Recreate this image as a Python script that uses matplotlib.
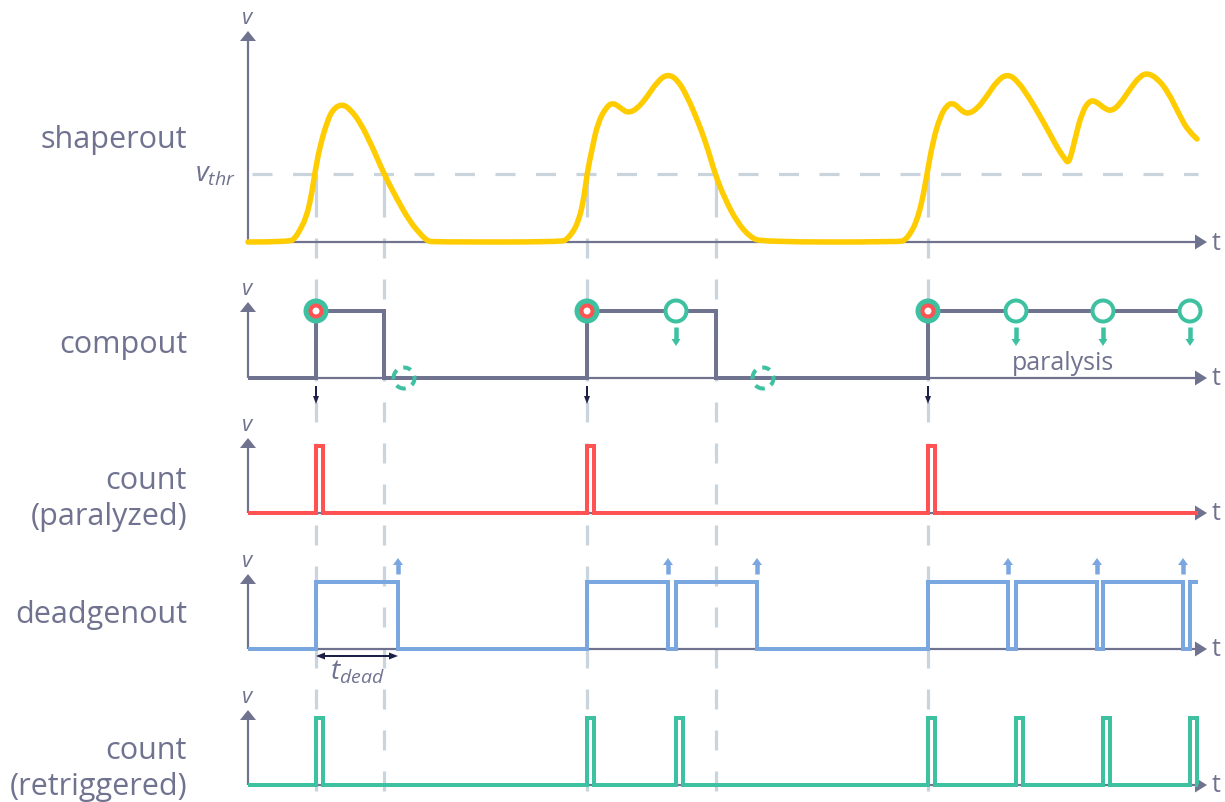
import matplotlib
matplotlib.use('Agg')
import matplotlib.pyplot as plt
from matplotlib.patches import Polygon, Circle, PathPatch
from matplotlib.path import Path
import numpy as np

plt.rcParams['font.family'] = ['Open Sans', 'DejaVu Sans']
plt.rcParams['mathtext.fontset'] = 'custom'
plt.rcParams['mathtext.it'] = 'Open Sans:italic'
plt.rcParams['mathtext.rm'] = 'Open Sans'
plt.rcParams['lines.scale_dashes'] = False

# ---- data (time in px-units from the v axis, voltage as height) ----
labels = ['shaperout', 'compout', 'count\n(paralyzed)', 'deadgenout', 'count\n(retriggered)']

shaper_t = [0, 42, 47, 52, 58, 63, 67, 72, 79, 85, 94, 102, 112, 124, 136, 149, 162, 175, 180, 185,
            314, 319, 325, 330, 335, 339, 344, 350, 359, 365, 370, 374, 380, 389, 399, 409, 419, 429,
            439, 449, 459, 467, 477, 489, 502, 514,
            652, 657, 662, 668, 674, 679, 685, 692, 699, 705, 710, 714, 720, 729, 739, 749, 759, 769,
            782, 792, 802, 810, 817, 820, 823, 827, 834, 842, 849, 857, 864, 872, 882, 892, 900,
            910, 920, 930, 940, 949]
shaper_v = [0, 0, 4, 12, 24, 44, 70, 96, 120, 133, 138, 133, 120, 96, 68, 43, 20, 5, 1, 0,
            0, 3, 10, 20, 38, 68, 93, 120, 136, 139, 136, 133, 129, 133, 145, 160, 168, 163,
            146, 123, 96, 68, 43, 20, 5, 0,
            0, 2, 8, 19, 40, 68, 101, 125, 137, 139, 135, 131, 128, 133, 146, 161, 168, 162,
            143, 126, 108, 93, 83, 79, 86, 103, 130, 142, 140, 133, 131, 138, 153, 166, 169,
            163, 150, 130, 111, 103]
v_thr = 68

cross_up = [68, 339, 680]
cross_down = [136, 468]
comp_end = 952
missed = [156, 515]                 # dashed circles (below threshold)
ignored = [428, 768, 855, 942]      # open circles during paralysis
paralyzed_pulses = [68, 339, 680]
dead_rise = [68, 339, 428, 680, 768, 855, 942]
dead_fall = [150, 420, 509, 760, 849, 935]
retrig_pulses = [68, 339, 428, 680, 768, 855, 942]
t_dead = (68, 150)
sig_end = 950

# ---- style ----
AXC = '#70738f'
TXT = '#70738f'
YEL = '#ffcc00'
RED = '#ff5252'
BLU = '#7ba7e0'
TEAL = '#3ec1a1'
NAVY = '#1d2148'
GRID = '#cad4dd'
PT = 0.72

X0 = 248
T_AXIS = 959
bases = [243, 379, 514, 650, 786]
tops = [32, 303, 439, 575, 711]
HIGH = 67


def X(t):
    return X0 + np.asarray(t, dtype=float)


def steps(rises, falls, end):
    ev = sorted([(r, 1) for r in rises] + [(f, 0) for f in falls])
    ts, ls = [0], [0]
    for t, lv in ev:
        ts += [t, t]
        ls += [ls[-1], lv]
    ts.append(end)
    ls.append(ls[-1])
    return np.array(ts), np.array(ls)


def smooth_path(xs, ys):
    # quadratic B-spline through the read points, drawn by matplotlib's Bezier path
    P = np.column_stack([xs, ys])
    verts = [P[0]]
    codes = [Path.MOVETO]
    n = len(P)
    for i in range(1, n - 1):
        end = P[n - 1] if i == n - 2 else (P[i] + P[i + 1]) / 2
        verts += [P[i], end]
        codes += [Path.CURVE3, Path.CURVE3]
    return Path(verts, codes)


def vhead(ax, x, tip, color, w, l, up=True):
    s = 1 if up else -1
    ax.add_patch(Polygon([(x - w / 2, tip + s * l), (x + w / 2, tip + s * l), (x, tip)],
                         closed=True, fc=color, ec='none', zorder=6))


def varrow(ax, x, y0, tip, color, lw_px, w, l):
    up = tip < y0
    s = 1 if up else -1
    ax.plot([x, x], [y0, tip + s * l * 0.7], color=color, lw=lw_px * PT,
            solid_capstyle='butt', zorder=6)
    vhead(ax, x, tip, color, w, l, up)


fig = plt.figure(figsize=(12.25, 8.03), dpi=100)
ax = fig.add_axes([0, 0, 1, 1])
ax.set_xlim(0, 1225)
ax.set_ylim(803, 0)
ax.axis('off')

# grid: threshold and vertical dashed lines
y_thr = bases[0] - v_thr
ax.plot([252, 1198], [y_thr, y_thr], color=GRID, lw=3.2 * PT,
        linestyle=(0, (20 * PT, 20.5 * PT)), zorder=1)
for t in cross_up + cross_down:
    ax.plot([X(t), X(t)], [y_thr, 218], color=GRID, lw=3.2 * PT, solid_capstyle='butt', zorder=1)
    ax.plot([X(t), X(t)], [239, 803], color=GRID, lw=3.2 * PT,
            linestyle=(0, (20 * PT, 21 * PT)), zorder=1)

# axes
x_tip = X0 + T_AXIS
for b, tp in zip(bases, tops):
    ax.plot([X0, X0], [b, tp + 8], color=AXC, lw=2.2 * PT, zorder=2, solid_capstyle='butt')
    vhead(ax, X0, tp, AXC, 16, 10)
    ax.plot([X0, x_tip - 10], [b, b], color=AXC, lw=2.2 * PT, zorder=2, solid_capstyle='butt')
    ax.add_patch(Polygon([(x_tip - 12, b - 7.5), (x_tip - 12, b + 7.5), (x_tip, b)],
                         closed=True, fc=AXC, ec='none', zorder=2))
    ax.text(x_tip + 5, b, 't', ha='left', va='center', fontsize=18, color=TXT)
    ax.text(X0, tp - 13, '$v$', ha='center', va='center', fontsize=16, color=TXT)

# panel labels
for lab, yc in zip(labels, [140, 345, 499, 615, 769]):
    ax.text(187, yc, lab, ha='right', va='center', fontsize=22, color=TXT, linespacing=1.3)
ax.text(236, 182, r'$v_{thr}$', ha='right', va='baseline', fontsize=20, color=TXT)

# shaperout
ax.add_patch(PathPatch(smooth_path(X(shaper_t), bases[0] - np.array(shaper_v)), fc='none',
                       ec=YEL, lw=5.5 * PT, capstyle='round', joinstyle='round', zorder=4))

# compout
ct, cl = steps(cross_up, cross_down, comp_end)
ax.plot(X(ct), bases[1] - HIGH * cl, color=AXC, lw=4 * PT, solid_joinstyle='miter',
        solid_capstyle='butt', zorder=3)
yh = bases[1] - HIGH
for t in cross_up:
    ax.add_patch(Circle((X(t), yh), 12.5, fc=TEAL, ec='none', zorder=5))
    ax.add_patch(Circle((X(t), yh), 5.5, fc='white', ec=RED, lw=4 * PT, zorder=5))
    varrow(ax, X(t), 387, 405, NAVY, 2, 6, 8)
for t in ignored:
    ax.add_patch(Circle((X(t), yh), 10.5, fc='white', ec=TEAL, lw=4 * PT, zorder=5))
    varrow(ax, X(t), 328, 347, TEAL, 4.5, 9, 7)
for t in missed:
    ax.add_patch(Circle((X(t), bases[1]), 10.5, fc='none', ec=TEAL, lw=4 * PT,
                        linestyle=(2, (10 * PT, 7 * PT)), zorder=5))
ax.text(1063, 364, 'paralysis', ha='center', va='center', fontsize=18, color=TXT, zorder=5)

# count (paralyzed)
pt_, pl_ = steps(paralyzed_pulses, [p + 7 for p in paralyzed_pulses], sig_end)
ax.plot(X(pt_), bases[2] - HIGH * pl_, color=RED, lw=4 * PT, solid_joinstyle='miter',
        solid_capstyle='butt', zorder=3)

# deadgenout
dt_, dl_ = steps(dead_rise, dead_fall, sig_end)
ax.plot(X(dt_), bases[3] - HIGH * dl_, color=BLU, lw=4 * PT, solid_joinstyle='miter',
        solid_capstyle='butt', zorder=3)
for t in dead_fall:
    varrow(ax, X(t), 575, 559, BLU, 4.5, 10, 7)
# t_dead annotation
ya = bases[3] + 7
ax.plot([X(t_dead[0]) + 6, X(t_dead[1]) - 6], [ya, ya], color=NAVY, lw=2 * PT, zorder=6)
for xx, s in [(X(t_dead[0]), 1), (X(t_dead[1]), -1)]:
    ax.add_patch(Polygon([(xx, ya), (xx + s * 9, ya - 3.5), (xx + s * 9, ya + 3.5)],
                         closed=True, fc=NAVY, ec='none', zorder=6))
ax.text((X(t_dead[0]) + X(t_dead[1])) / 2, 680, r'$t_{dead}$', ha='center', va='baseline',
        fontsize=20, color=TXT)

# count (retriggered)
rt_, rl_ = steps(retrig_pulses, [p + 7 for p in retrig_pulses], sig_end)
ax.plot(X(rt_), bases[4] - HIGH * rl_, color=TEAL, lw=4 * PT, solid_joinstyle='miter',
        solid_capstyle='butt', zorder=3)

fig.savefig('out.png', dpi=100, facecolor='white')
